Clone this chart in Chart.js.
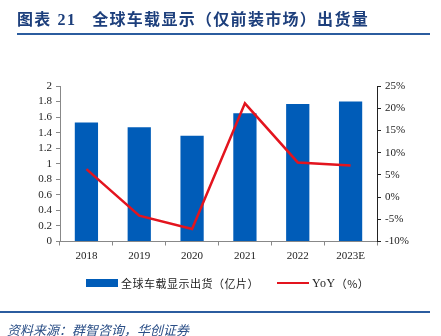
<!DOCTYPE html>
<html>
<head>
<meta charset="utf-8">
<script src="https://cdn.jsdelivr.net/npm/chart.js@4.4.1/dist/chart.umd.min.js"></script>
<style>
  html, body { margin: 0; padding: 0; background: #fff; }
  #wrap { position: relative; width: 441px; height: 336px; overflow: hidden; }
  #chart { position: absolute; left: 0; top: 0; }
  .title {
    position: absolute; left: 17px; top: 6px; white-space: nowrap;
    font-family: "Noto Sans CJK SC", sans-serif; font-weight: bold;
    font-size: 16px; color: #1d3f7c; letter-spacing: 1.3px;
  }
  .title .num { font-family: "Liberation Serif", serif; margin: 0 16px 0 6px; }
  .rule { position: absolute; left: 17px; width: 413px; height: 2px; background: #2b5c9f; }
  .legend {
    position: absolute; top: 273px; white-space: nowrap;
    font-family: "Noto Sans CJK SC", sans-serif; font-size: 11px; color: #222;
    letter-spacing: 0.5px;
  }
  .legend span { vertical-align: middle; }
  .src {
    position: absolute; left: 7px; top: 320px; white-space: nowrap;
    font-family: "Noto Sans CJK SC", sans-serif; font-style: italic;
    font-size: 13px; color: #2b4f87;
  }
</style>
</head>
<body>
<div id="wrap">
  <canvas id="chart" width="441" height="336"></canvas>
  <div class="title">图表<span class="num">21</span>全球车载显示（仅前装市场）出货量</div>
  <div class="rule" style="top:33px"></div>
  <div class="legend" style="left:86px">
    <span style="display:inline-block;width:32px;height:8px;background:#005cb8;margin-right:3px"></span><span>全球车载显示出货（亿片）</span>
  </div>
  <div class="legend" style="left:277px">
    <span style="display:inline-block;width:32px;height:2px;background:#e3141e;margin-right:3px"></span><span style="font-family:'Liberation Serif',serif;font-size:12px">YoY</span><span>（%）</span>
  </div>
  <div class="rule" style="top:311px;left:0;width:430px"></div>
  <div class="src">资料来源：群智咨询，华创证券</div>
</div>
<script>
var years = ["2018", "2019", "2020", "2021", "2022", "2023E"];
var shipments = [1.53, 1.47, 1.36, 1.65, 1.77, 1.80];
var yoy = [6.3, -4.2, -7.2, 21.1, 7.8, 7.1];

var tickFont = { family: "Liberation Serif", size: 11 };

new Chart(document.getElementById("chart"), {
    data: {
        labels: years,
        datasets: [{
            type: "line",
            label: "YoY（%）",
            data: yoy,
            yAxisID: "yR",
            borderColor: "#e3141e",
            borderWidth: 2.5,
            pointRadius: 0,
            tension: 0,
            order: 0
        }, {
            type: "bar",
            label: "全球车载显示出货（亿片）",
            data: shipments,
            yAxisID: "yL",
            backgroundColor: "#005cb8",
            barPercentage: 0.44,
            categoryPercentage: 1,
            order: 1
        }]
    },
    options: {
        responsive: false,
        animation: false,
        layout: { padding: { top: 86, bottom: 74, left: 0, right: 0 } },
        plugins: { legend: { display: false }, tooltip: { enabled: false } },
        scales: {
            x: {
                offset: true,
                grid: { offset: true, drawOnChartArea: false, tickLength: 4, color: "#888" },
                border: { color: "#888", width: 1 },
                ticks: { font: tickFont, color: "#222", padding: 4 },
                afterFit: function(s) { s.height = 20.5; }
            },
            yL: {
                position: "left",
                min: 0, max: 2,
                ticks: {
                    stepSize: 0.2, autoSkip: false, font: tickFont, color: "#222", padding: 4,
                    callback: function(v) { return String(Number(v.toFixed(1))); }
                },
                grid: { drawOnChartArea: false, tickLength: 4, color: "#888" },
                border: { color: "#888", width: 1 },
                afterFit: function(s) { s.width = 60; }
            },
            yR: {
                position: "right",
                min: -10, max: 25,
                ticks: {
                    stepSize: 5, autoSkip: false, font: tickFont, color: "#222", padding: 4,
                    callback: function(v) { return v + "%"; }
                },
                grid: { drawOnChartArea: false, tickLength: 4, color: "#222" },
                border: { color: "#222", width: 1 },
                afterFit: function(s) { s.width = 64; }
            }
        }
    }
});
</script>
</body>
</html>
